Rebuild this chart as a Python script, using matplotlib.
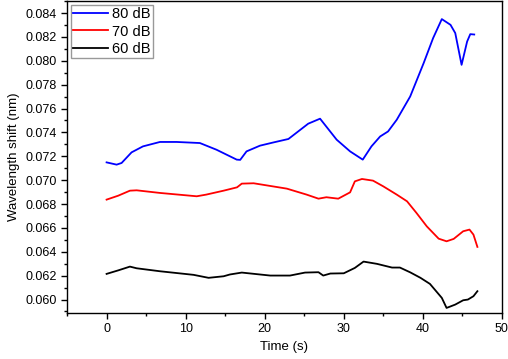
import matplotlib
matplotlib.use("Agg")
import matplotlib.pyplot as plt
from matplotlib.ticker import MultipleLocator

plt.rcParams['font.family'] = ['Liberation Sans', 'DejaVu Sans']

t80 = [0, 1.27, 1.9, 3.16, 4.6, 6.75, 8.86, 11.8, 13.9, 16.46, 16.9, 17.7, 19.4, 21.1, 23.0,
       25.5, 27.0, 29.1, 30.8, 32.4, 33.5, 34.6, 35.6, 36.7, 38.4, 40.1, 41.3, 42.4, 43.5,
       44.1, 44.9, 45.6, 46.0, 46.5]
y80 = [0.07149, 0.07130, 0.07144, 0.07233, 0.07283, 0.07320, 0.07320, 0.07311, 0.07255,
       0.07172, 0.07170, 0.07241, 0.07289, 0.07316, 0.07345, 0.07473, 0.07515, 0.07339,
       0.07241, 0.07172, 0.07283, 0.07366, 0.07408, 0.07506, 0.07701, 0.07980, 0.08190,
       0.08349, 0.08301, 0.08232, 0.07966, 0.08161, 0.08223, 0.08220]

t70 = [0, 1.47, 2.95, 3.8, 6.75, 11.4, 12.6, 14.8, 16.5, 17.1, 18.6, 22.8, 25.3, 26.8, 27.8,
       29.3, 30.8, 31.4, 32.3, 33.7, 35.0, 36.7, 38.0, 39.2, 40.5, 42.0, 43.0, 43.9, 45.1,
       45.9, 46.4, 46.9]
y70 = [0.06837, 0.06870, 0.06912, 0.06915, 0.06893, 0.06865, 0.06879, 0.06912, 0.06940,
       0.06971, 0.06974, 0.06929, 0.06879, 0.06845, 0.06857, 0.06845, 0.06898, 0.06990,
       0.07010, 0.06996, 0.06948, 0.06879, 0.06823, 0.06725, 0.06613, 0.06510, 0.06488,
       0.06508, 0.06572, 0.06586, 0.06544, 0.06441]

t60 = [0, 1.5, 2.95, 3.8, 6.75, 11.0, 12.9, 14.8, 15.6, 17.1, 20.7, 23.2, 25.1, 26.8, 27.4,
       28.3, 30.0, 31.4, 32.5, 34.2, 36.1, 37.1, 38.4, 39.7, 40.9, 42.4, 43.0, 43.4, 44.1,
       45.1, 45.7, 46.4, 46.9]
y60 = [0.06215, 0.06245, 0.06276, 0.06262, 0.06237, 0.06207, 0.06182, 0.06195, 0.06210,
       0.06226, 0.06201, 0.06201, 0.06226, 0.06229, 0.06201, 0.06218, 0.06220, 0.06265,
       0.06318, 0.06299, 0.06268, 0.06268, 0.06228, 0.06182, 0.06131, 0.06014, 0.05930,
       0.05940, 0.05958, 0.05994, 0.06000, 0.06028, 0.06070]

labels = ['80 dB', '70 dB', '60 dB']
colors = ['#0000ff', '#ff0000', '#000000']

fig = plt.figure(figsize=(5.08, 3.59), dpi=100)
ax = fig.add_axes([0.132, 0.129, 0.856, 0.868])

for t, y, lab, c in zip([t80, t70, t60], [y80, y70, y60], labels, colors):
    ax.plot(t, y, color=c, lw=1.3, label=lab)

ax.set_xlim(-5, 50)
ax.set_ylim(0.0589, 0.0850)
ax.xaxis.set_major_locator(MultipleLocator(10))
ax.xaxis.set_minor_locator(MultipleLocator(5))
ax.yaxis.set_major_locator(MultipleLocator(0.002))
ax.yaxis.set_minor_locator(MultipleLocator(0.001))
ax.yaxis.set_major_formatter(matplotlib.ticker.FormatStrFormatter('%.3f'))
ax.tick_params(which='major', direction='out', length=4, width=1, labelsize=9, top=False, right=False)
ax.tick_params(which='minor', direction='out', length=2.5, width=1, top=False, right=False)
for s in ax.spines.values():
    s.set_linewidth(1.0)

ax.set_xlabel('Time (s)', fontsize=9.5)
ax.set_ylabel('Wavelength shift (nm)', fontsize=9.5)

leg = ax.legend(loc='upper left', fontsize=10.5, frameon=True, fancybox=False,
                edgecolor='#808080', borderaxespad=0.25, handlelength=2.4,
                labelspacing=0.22, borderpad=0.18, handletextpad=0.27)
leg.get_frame().set_linewidth(1.0)

fig.savefig('out.png', dpi=100)
